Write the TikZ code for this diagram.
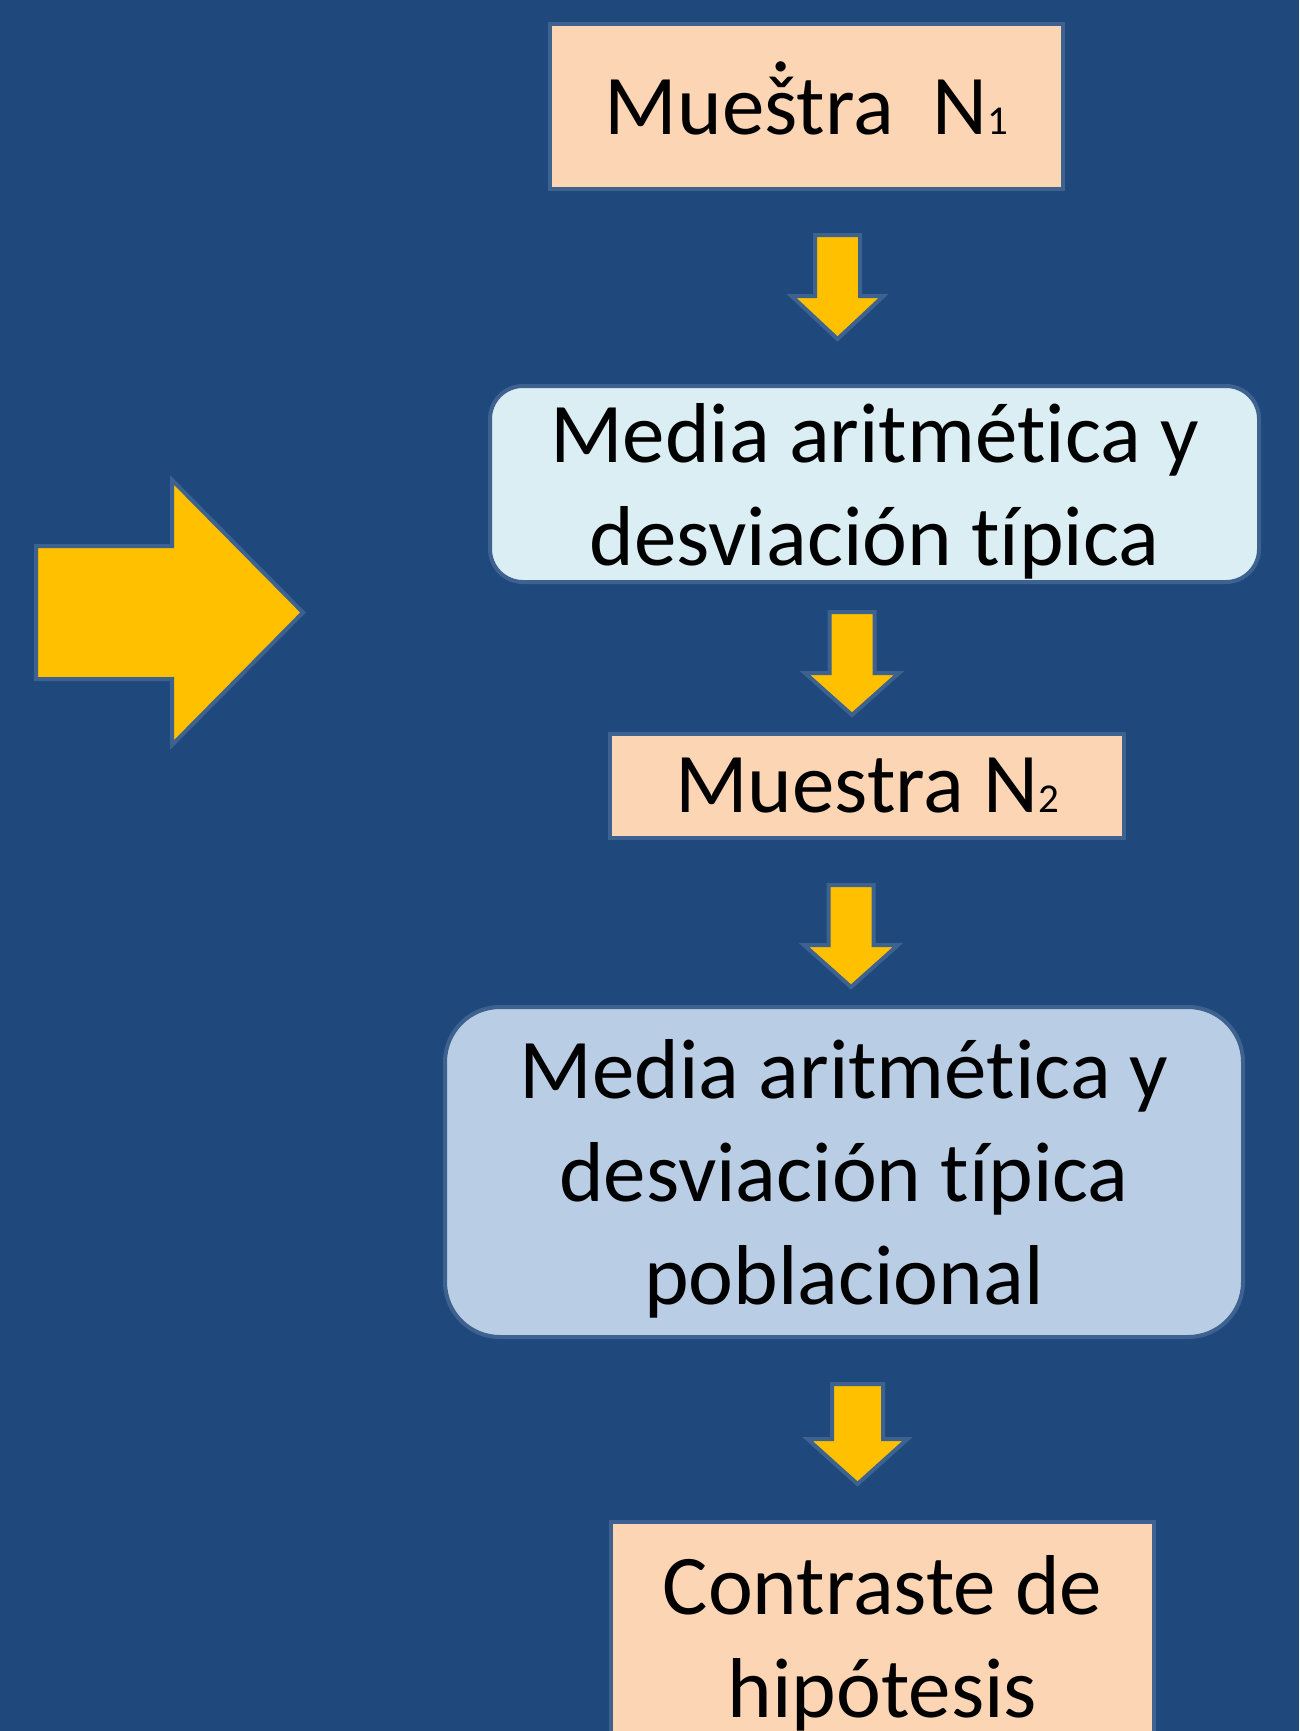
\documentclass[tikz,border=0pt]{standalone}
\usepackage{fontspec}
\setmainfont{Carlito}[Ligatures={NoCommon}]
\usetikzlibrary{positioning}

\definecolor{fondo}{RGB}{31,73,125}
\definecolor{borde}{RGB}{62,98,143}
\definecolor{salmon}{RGB}{252,213,181}
\definecolor{celeste}{RGB}{219,238,244}
\definecolor{azulclaro}{RGB}{185,205,229}
\definecolor{oro}{RGB}{255,192,0}

% flecha hacia abajo: x, arriba, base de la punta, punta, medio ancho cuerpo, medio ancho punta
\newcommand{\flecha}[6]{%
  \filldraw[flechaest] (#1-#5,#2) -- (#1+#5,#2) -- (#1+#5,#3) -- (#1+#6,#3)
    -- (#1,#4) -- (#1-#6,#3) -- (#1-#5,#3) -- cycle;}
\newcommand{\subn}[1]{{\fontsize{41}{41}\selectfont #1}}

\begin{document}
\begin{tikzpicture}[x=1pt, y=-1pt, every node/.style={font=\fontsize{85}{103}\selectfont}]
            \tikzstyle{caja}=[draw=borde, line width=4pt, fill=salmon, align=center, inner sep=0pt]
            \tikzstyle{redondeada}=[caja, text depth=0pt]
            \tikzstyle{flechaest}=[fill=oro, draw=borde, line width=4pt, line join=miter]

            \fill[fondo] (0,0) rectangle (1299,1731);
            \clip (0,0) rectangle (1299,1731);

            \node[caja, text height=57pt, minimum width=513pt, minimum height=165pt] (m1) at (806.5,106.5) {Mue\accent"02D9 ^^^^0161tra~~N\subn{1}};
            \node[redondeada, fill=celeste, rounded corners=33pt, minimum width=769pt, minimum height=196pt] (media1) at (874.5,484) {Media aritmética y\\desviación típica};
            \node[caja, minimum width=514pt, minimum height=104pt] (m2) at (867,786) {Muestra N\subn{2}};
            \node[redondeada, fill=azulclaro, rounded corners=55pt, minimum width=798pt, minimum height=330pt] (media2) at (844,1172) {Media aritmética y\\desviación típica\\poblacional};
            \node[caja, minimum width=543pt, minimum height=242pt] (contraste) at (882.5,1643) {Contraste de\\hipótesis};

            \flecha{837.5}{235}{296}{339}{22.5}{46}
            \flecha{852}{612}{673}{715}{22.5}{47}
            \flecha{851}{885}{945}{987}{22.5}{47}
            \flecha{857.5}{1384}{1439}{1484}{25.5}{50}

            \filldraw[flechaest] (36,546) -- (172,546) -- (172,480) -- (303,612.5)
                -- (172,745) -- (172,679) -- (36,679) -- cycle;
\end{tikzpicture}
\end{document}
